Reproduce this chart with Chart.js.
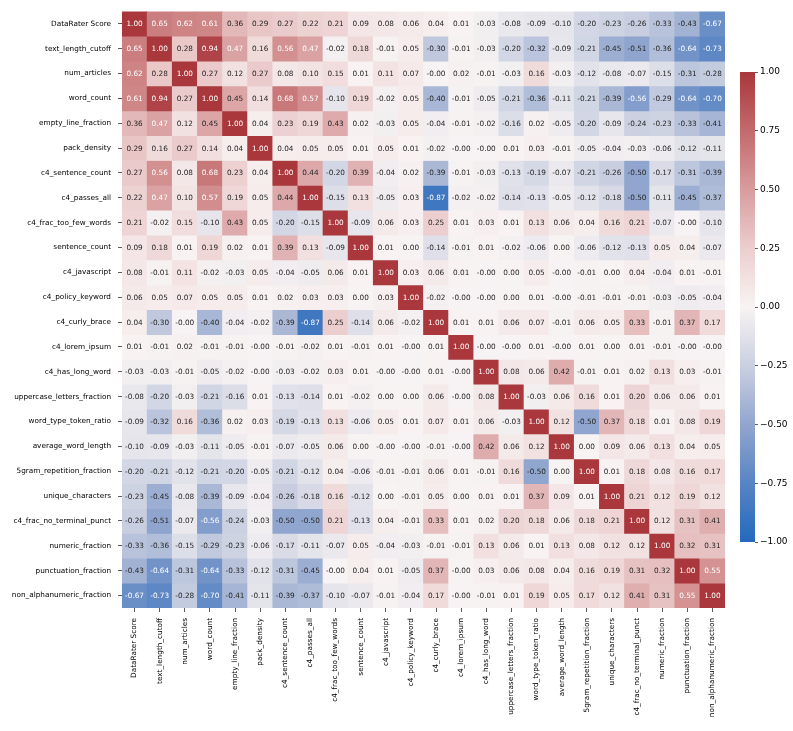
<!DOCTYPE html>
<html>
<head>
<meta charset="utf-8">
<script src="https://cdn.jsdelivr.net/npm/chart.js@4.4.1/dist/chart.umd.min.js"></script>
<style>
    html, body { margin: 0; padding: 0; background: #fff; }
    #wrap { position: relative; width: 793px; height: 731px; }
    #heat { position: absolute; left: 0; top: 0; width: 735px; height: 731px; }
    #cbar { position: absolute; left: 725px; top: 0; width: 68px; height: 731px; }
</style>
</head>
<body>
<div id="wrap">
    <canvas id="heat" width="735" height="731"></canvas>
    <canvas id="cbar" width="68" height="731"></canvas>
</div>
<script>
// Nomes das variáveis (linhas e colunas)
var labels = [
    'DataRater Score', 'text_length_cutoff', 'num_articles', 'word_count',
    'empty_line_fraction', 'pack_density', 'c4_sentence_count', 'c4_passes_all',
    'c4_frac_too_few_words', 'sentence_count', 'c4_javascript', 'c4_policy_keyword',
    'c4_curly_brace', 'c4_lorem_ipsum', 'c4_has_long_word', 'uppercase_letters_fraction',
    'word_type_token_ratio', 'average_word_length', '5gram_repetition_fraction', 'unique_characters',
    'c4_frac_no_terminal_punct', 'numeric_fraction', 'punctuation_fraction', 'non_alphanumeric_fraction'
];

// Matriz de correlação (-0.004 aparece como -0.00)
var corr = [
    [1.00, 0.65, 0.62, 0.61, 0.36, 0.29, 0.27, 0.22, 0.21, 0.09, 0.08, 0.06, 0.04, 0.01, -0.03, -0.08, -0.09, -0.10, -0.20, -0.23, -0.26, -0.33, -0.43, -0.67],
    [0.65, 1.00, 0.28, 0.94, 0.47, 0.16, 0.56, 0.47, -0.02, 0.18, -0.01, 0.05, -0.30, -0.01, -0.03, -0.20, -0.32, -0.09, -0.21, -0.45, -0.51, -0.36, -0.64, -0.73],
    [0.62, 0.28, 1.00, 0.27, 0.12, 0.27, 0.08, 0.10, 0.15, 0.01, 0.11, 0.07, -0.004, 0.02, -0.01, -0.03, 0.16, -0.03, -0.12, -0.08, -0.07, -0.15, -0.31, -0.28],
    [0.61, 0.94, 0.27, 1.00, 0.45, 0.14, 0.68, 0.57, -0.10, 0.19, -0.02, 0.05, -0.40, -0.01, -0.05, -0.21, -0.36, -0.11, -0.21, -0.39, -0.56, -0.29, -0.64, -0.70],
    [0.36, 0.47, 0.12, 0.45, 1.00, 0.04, 0.23, 0.19, 0.43, 0.02, -0.03, 0.05, -0.04, -0.01, -0.02, -0.16, 0.02, -0.05, -0.20, -0.09, -0.24, -0.23, -0.33, -0.41],
    [0.29, 0.16, 0.27, 0.14, 0.04, 1.00, 0.04, 0.05, 0.05, 0.01, 0.05, 0.01, -0.02, -0.004, -0.004, 0.01, 0.03, -0.01, -0.05, -0.04, -0.03, -0.06, -0.12, -0.11],
    [0.27, 0.56, 0.08, 0.68, 0.23, 0.04, 1.00, 0.44, -0.20, 0.39, -0.04, 0.02, -0.39, -0.01, -0.03, -0.13, -0.19, -0.07, -0.21, -0.26, -0.50, -0.17, -0.31, -0.39],
    [0.22, 0.47, 0.10, 0.57, 0.19, 0.05, 0.44, 1.00, -0.15, 0.13, -0.05, 0.03, -0.87, -0.02, -0.02, -0.14, -0.13, -0.05, -0.12, -0.18, -0.50, -0.11, -0.45, -0.37],
    [0.21, -0.02, 0.15, -0.10, 0.43, 0.05, -0.20, -0.15, 1.00, -0.09, 0.06, 0.03, 0.25, 0.01, 0.03, 0.01, 0.13, 0.06, 0.04, 0.16, 0.21, -0.07, -0.004, -0.10],
    [0.09, 0.18, 0.01, 0.19, 0.02, 0.01, 0.39, 0.13, -0.09, 1.00, 0.01, 0.00, -0.14, -0.01, 0.01, -0.02, -0.06, 0.00, -0.06, -0.12, -0.13, 0.05, 0.04, -0.07],
    [0.08, -0.01, 0.11, -0.02, -0.03, 0.05, -0.04, -0.05, 0.06, 0.01, 1.00, 0.03, 0.06, 0.01, -0.004, 0.00, 0.05, -0.004, -0.01, 0.00, 0.04, -0.04, 0.01, -0.01],
    [0.06, 0.05, 0.07, 0.05, 0.05, 0.01, 0.02, 0.03, 0.03, 0.00, 0.03, 1.00, -0.02, -0.004, -0.004, 0.00, 0.01, -0.004, -0.01, -0.01, -0.01, -0.03, -0.05, -0.04],
    [0.04, -0.30, -0.004, -0.40, -0.04, -0.02, -0.39, -0.87, 0.25, -0.14, 0.06, -0.02, 1.00, 0.01, 0.01, 0.06, 0.07, -0.01, 0.06, 0.05, 0.33, -0.01, 0.37, 0.17],
    [0.01, -0.01, 0.02, -0.01, -0.01, -0.004, -0.01, -0.02, 0.01, -0.01, 0.01, -0.004, 0.01, 1.00, -0.004, -0.004, 0.01, -0.004, 0.01, 0.00, 0.01, -0.01, -0.004, -0.004],
    [-0.03, -0.03, -0.01, -0.05, -0.02, -0.004, -0.03, -0.02, 0.03, 0.01, -0.004, -0.004, 0.01, -0.004, 1.00, 0.08, 0.06, 0.42, -0.01, 0.01, 0.02, 0.13, 0.03, -0.01],
    [-0.08, -0.20, -0.03, -0.21, -0.16, 0.01, -0.13, -0.14, 0.01, -0.02, 0.00, 0.00, 0.06, -0.004, 0.08, 1.00, -0.03, 0.06, 0.16, 0.01, 0.20, 0.06, 0.06, 0.01],
    [-0.09, -0.32, 0.16, -0.36, 0.02, 0.03, -0.19, -0.13, 0.13, -0.06, 0.05, 0.01, 0.07, 0.01, 0.06, -0.03, 1.00, 0.12, -0.50, 0.37, 0.18, 0.01, 0.08, 0.19],
    [-0.10, -0.09, -0.03, -0.11, -0.05, -0.01, -0.07, -0.05, 0.06, 0.00, -0.004, -0.004, -0.01, -0.004, 0.42, 0.06, 0.12, 1.00, 0.00, 0.09, 0.06, 0.13, 0.04, 0.05],
    [-0.20, -0.21, -0.12, -0.21, -0.20, -0.05, -0.21, -0.12, 0.04, -0.06, -0.01, -0.01, 0.06, 0.01, -0.01, 0.16, -0.50, 0.00, 1.00, 0.01, 0.18, 0.08, 0.16, 0.17],
    [-0.23, -0.45, -0.08, -0.39, -0.09, -0.04, -0.26, -0.18, 0.16, -0.12, 0.00, -0.01, 0.05, 0.00, 0.01, 0.01, 0.37, 0.09, 0.01, 1.00, 0.21, 0.12, 0.19, 0.12],
    [-0.26, -0.51, -0.07, -0.56, -0.24, -0.03, -0.50, -0.50, 0.21, -0.13, 0.04, -0.01, 0.33, 0.01, 0.02, 0.20, 0.18, 0.06, 0.18, 0.21, 1.00, 0.12, 0.31, 0.41],
    [-0.33, -0.36, -0.15, -0.29, -0.23, -0.06, -0.17, -0.11, -0.07, 0.05, -0.04, -0.03, -0.01, -0.01, 0.13, 0.06, 0.01, 0.13, 0.08, 0.12, 0.12, 1.00, 0.32, 0.31],
    [-0.43, -0.64, -0.31, -0.64, -0.33, -0.12, -0.31, -0.45, -0.004, 0.04, 0.01, -0.05, 0.37, -0.004, 0.03, 0.06, 0.08, 0.04, 0.16, 0.19, 0.31, 0.32, 1.00, 0.55],
    [-0.67, -0.73, -0.28, -0.70, -0.41, -0.11, -0.39, -0.37, -0.10, -0.07, -0.01, -0.04, 0.17, -0.004, -0.01, 0.01, 0.19, 0.05, 0.17, 0.12, 0.41, 0.31, 0.55, 1.00]
];

// Escala de cores divergente (azul -> branco -> vermelho)
var colorStops = [
    [-1.00, [35, 105, 189]],
    [-0.75, [88, 132, 196]],
    [-0.50, [145, 166, 206]],
    [-0.25, [202, 208, 225]],
    [0.00, [248, 243, 243]],
    [0.25, [236, 206, 206]],
    [0.50, [216, 156, 157]],
    [0.75, [195, 106, 108]],
    [1.00, [169, 55, 59]]
];

function colorFor(v) {
    v = Math.max(-1, Math.min(1, v));
    for (var i = 1; i < colorStops.length; i++) {
        if (v <= colorStops[i][0]) {
            var a = colorStops[i - 1], b = colorStops[i];
            var t = (v - a[0]) / (b[0] - a[0]);
            var c = a[1].map(function (x, k) { return Math.round(x + (b[1][k] - x) * t); });
            return 'rgb(' + c.join(',') + ')';
        }
    }
    return 'rgb(169,55,59)';
}

Chart.defaults.font.family = '"DejaVu Sans", sans-serif';

// Plugin para escrever os valores dentro de cada célula
var cellText = {
    id: 'cellText',
    afterDatasetsDraw: function (chart) {
        var ctx = chart.ctx;
        ctx.save();
        ctx.font = '7.3px "DejaVu Sans"';
        ctx.textAlign = 'center';
        ctx.textBaseline = 'middle';
        chart.data.datasets.forEach(function (ds, r) {
            chart.getDatasetMeta(r).data.forEach(function (bar, c) {
                var v = corr[r][c];
                ctx.fillStyle = (v >= 0.46 || v <= -0.53) ? '#ffffff' : '#262626';
                ctx.fillText(v.toFixed(2), bar.x, (bar.y + bar.base) / 2 + 0.5);
            });
        });
        ctx.restore();
    }
};

var datasets = corr.map(function (row, r) {
    return {
        data: row.map(function () { return [r, r + 1]; }),
        backgroundColor: row.map(colorFor),
        grouped: false,
        barPercentage: 1,
        categoryPercentage: 1,
        borderWidth: 0
    };
});

new Chart(document.getElementById('heat'), {
    type: 'bar',
    data: { labels: labels, datasets: datasets },
    options: {
        responsive: false,
        animation: false,
        layout: { padding: { top: 6, right: 10, left: 0, bottom: 0 } },
        plugins: { legend: { display: false }, tooltip: { enabled: false } },
        scales: {
            x: {
                type: 'category',
                offset: true,
                afterFit: function (scale) { scale.height = 123; },
                ticks: { minRotation: 90, maxRotation: 90, autoSkip: false, font: { size: 7.3 }, color: '#000', padding: 6 },
                grid: { offset: false, drawOnChartArea: false, tickLength: 4, color: '#333', lineWidth: 0.8 },
                border: { display: false }
            },
            y: {
                type: 'linear',
                min: 0,
                max: 24,
                reverse: true,
                afterBuildTicks: function (scale) {
                    scale.ticks = labels.map(function (l, i) { return { value: i + 0.5 }; });
                },
                afterFit: function (scale) { scale.width = 122; },
                ticks: {
                    autoSkip: false,
                    callback: function (v, i) { return labels[i]; },
                    font: { size: 7.3 },
                    color: '#000',
                    padding: 7
                },
                grid: { drawOnChartArea: false, tickLength: 4, color: '#333', lineWidth: 0.8 },
                border: { display: false }
            }
        }
    },
    plugins: [cellText]
});

// Barra de cores
new Chart(document.getElementById('cbar'), {
    type: 'bar',
    data: {
        labels: [''],
        datasets: [{
            data: [[-1, 1]],
            backgroundColor: function (context) {
                var area = context.chart.chartArea;
                if (!area) return null;
                var g = context.chart.ctx.createLinearGradient(0, area.bottom, 0, area.top);
                colorStops.forEach(function (s) { g.addColorStop((s[0] + 1) / 2, colorFor(s[0])); });
                return g;
            },
            barPercentage: 1,
            categoryPercentage: 1,
            borderWidth: 0
        }]
    },
    options: {
        responsive: false,
        animation: false,
        layout: { padding: { top: 72, bottom: 189, left: 15, right: 0 } },
        plugins: { legend: { display: false }, tooltip: { enabled: false } },
        scales: {
            x: { display: false },
            y: {
                position: 'right',
                min: -1,
                max: 1,
                afterFit: function (scale) { scale.width = 38; },
                ticks: {
                    stepSize: 0.25,
                    callback: function (v) { return (v < 0 ? '\u2212' : '') + Math.abs(v).toFixed(2); },
                    font: { size: 9 },
                    color: '#000',
                    padding: 2
                },
                grid: { drawOnChartArea: false, tickLength: 3, color: '#333', lineWidth: 0.8 },
                border: { display: false }
            }
        }
    }
});
</script>
</body>
</html>
